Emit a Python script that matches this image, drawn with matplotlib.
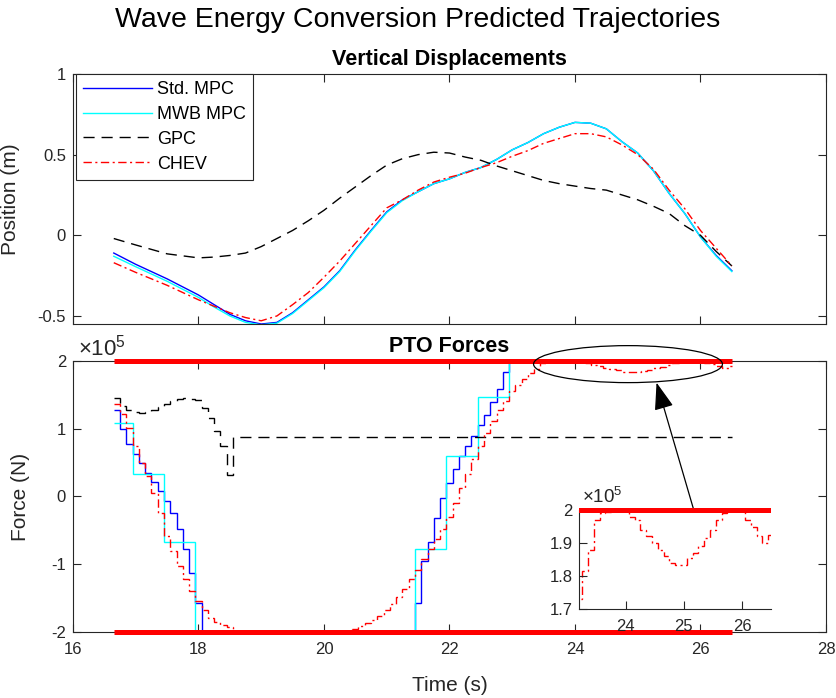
import numpy as np
import matplotlib
matplotlib.use('Agg')
import matplotlib.pyplot as plt
from matplotlib.patches import Ellipse
from matplotlib.ticker import FuncFormatter
from matplotlib.transforms import Bbox, TransformedBbox

plt.rcParams['font.family'] = ['Liberation Sans', 'DejaVu Sans']
plt.rcParams['axes.unicode_minus'] = False
plt.rcParams['mathtext.fontset'] = 'custom'
plt.rcParams['mathtext.rm'] = 'Liberation Sans'
plt.rcParams['mathtext.it'] = 'Liberation Sans:italic'

# ---- vertical displacements (m) ----
pos_time = [16.65, 17.0, 17.5, 18.0, 18.25, 18.5, 18.75, 19.0, 19.25, 19.5, 19.75, 20.0, 20.25, 20.5,
            20.75, 21.0, 21.25, 21.5, 21.75, 22.0, 22.25, 22.5, 22.75, 23.0, 23.25, 23.5, 23.75, 24.0,
            24.25, 24.5, 24.75, 25.0, 25.25, 25.5, 25.75, 26.0, 26.25, 26.5]
pos_std = [-0.11, -0.18, -0.27, -0.37, -0.43, -0.49, -0.53, -0.55, -0.54, -0.48, -0.40, -0.32, -0.22, -0.09,
           0.03, 0.145, 0.22, 0.27, 0.32, 0.35, 0.39, 0.42, 0.47, 0.53, 0.575, 0.63, 0.67, 0.70,
           0.695, 0.66, 0.58, 0.51, 0.40, 0.26, 0.135, -0.01, -0.125, -0.22]
pos_mwb = [-0.13, -0.195, -0.285, -0.385, -0.445, -0.50, -0.54, -0.555, -0.545, -0.485, -0.405, -0.325, -0.225, -0.095,
           0.025, 0.14, 0.215, 0.27, 0.32, 0.35, 0.39, 0.42, 0.47, 0.53, 0.575, 0.63, 0.67, 0.70,
           0.695, 0.66, 0.58, 0.51, 0.40, 0.26, 0.135, -0.01, -0.13, -0.225]
pos_gpc = [-0.02, -0.06, -0.115, -0.14, -0.135, -0.125, -0.11, -0.07, -0.02, 0.03, 0.09, 0.155, 0.23, 0.30,
           0.37, 0.435, 0.475, 0.50, 0.515, 0.51, 0.485, 0.465, 0.43, 0.40, 0.37, 0.34, 0.32, 0.305,
           0.29, 0.28, 0.25, 0.22, 0.18, 0.135, 0.06, 0.0, -0.10, -0.19]
pos_chev = [-0.17, -0.23, -0.31, -0.40, -0.44, -0.48, -0.51, -0.53, -0.50, -0.43, -0.355, -0.26, -0.16, -0.05,
            0.06, 0.17, 0.22, 0.28, 0.33, 0.36, 0.385, 0.42, 0.45, 0.49, 0.525, 0.57, 0.60, 0.63,
            0.63, 0.61, 0.56, 0.50, 0.41, 0.28, 0.165, 0.03, -0.08, -0.19]

# ---- PTO forces (x1e5 N), 0.1 s samples from 16.65 s ----
force_start = 16.65
force_end = 26.5
force_std = ([1.27, 1.00, 0.78, 0.62, 0.49, 0.35, 0.21, 0.08, -0.07, -0.25, -0.48, -0.77, -1.13, -1.57]
             + [-2.0] * 34
             + [-1.57, -0.95, -0.67, -0.32, -0.03, 0.20, 0.40, 0.59, 0.74, 0.89, 1.05, 1.20, 1.39, 1.58, 1.83]
             + [2.0] * 36)
force_chev = ([1.36, 1.22, 1.01, 0.75, 0.50, 0.30, 0.05, -0.25, -0.59, -0.81, -1.03, -1.22, -1.40,
               -1.55, -1.68, -1.79, -1.85, -1.90, -1.93]
              + [-2.0] * 18
              + [-1.98, -1.95, -1.91, -1.87, -1.82, -1.76, -1.68, -1.59, -1.48, -1.36, -1.22, -1.08,
                 -0.93, -0.78, -0.63, -0.48, -0.30, -0.10, 0.12, 0.33, 0.55, 0.75, 0.93, 1.11, 1.27,
                 1.41, 1.55, 1.65, 1.73, 1.815, 1.88, 1.97, 1.99, 1.995, 2.0, 2.0, 2.0, 1.98, 1.97,
                 1.94, 1.92, 1.90, 1.88, 1.86, 1.84, 1.835, 1.835, 1.855, 1.87, 1.89, 1.915, 1.94,
                 1.97, 1.99, 2.0, 2.0, 2.0, 1.97, 1.95, 1.92, 1.90, 1.925])
force_gpc = ([1.45, 1.33, 1.27, 1.24, 1.23, 1.24, 1.27, 1.32, 1.37, 1.41, 1.44, 1.45, 1.44, 1.42,
              1.30, 1.16, 0.96, 0.74, 0.31]
             + [0.875] * 80)
# move-blocked input: step edges (s) and values
mwb_edges = [16.65, 16.95, 17.45, 17.95, 21.45, 21.95, 22.45, 22.95, 26.5]
force_mwb = [1.09, 0.33, -0.67, -2.0, -0.77, 0.59, 1.47, 2.0]
force_max = 2.0
force_min = -2.0

n = len(force_std)
force_edges = np.r_[np.round(force_start + 0.1 * np.arange(n), 2), force_end]

c_std = '#0000FF'
c_mwb = '#00FFFF'
c_gpc = 'black'
c_chev = '#FF0000'
dash = (0, (8, 5))
dashdot = (0, (6, 2.5, 1.5, 2.5))
axcol = '#262626'

tick_fs = 12
label_fs = 15
title_fs = 15.5

fig = plt.figure(figsize=(8.36, 6.98), dpi=100)
fig.text(0.5, 0.971, 'Wave Energy Conversion Predicted Trajectories', ha='center', va='center',
         fontsize=20.5, color='black')

ax1 = fig.add_axes([0.0873, 0.5358, 0.9007, 0.3582])
ax2 = fig.add_axes([0.0873, 0.0946, 0.9007, 0.3883])


def style(ax, box=True):
    for s in ax.spines.values():
        s.set_color(axcol)
        s.set_linewidth(0.8)
    if not box:
        ax.spines['top'].set_visible(False)
        ax.spines['right'].set_visible(False)
    ax.tick_params(direction='in', length=6, width=0.8, colors=axcol, labelsize=tick_fs,
                   top=box, right=box, pad=5)
    ax.tick_params(axis='x', pad=7)
    ax.yaxis.set_major_formatter(FuncFormatter(lambda v, p: '%g' % round(v, 3)))
    ax.xaxis.set_major_formatter(FuncFormatter(lambda v, p: '%g' % round(v, 3)))


# top panel
ax1.plot(pos_time, pos_std, color=c_std, lw=1.0, label='Std. MPC')
ax1.plot(pos_time, pos_mwb, color=c_mwb, lw=1.0, label='MWB MPC')
ax1.plot(pos_time, pos_gpc, color=c_gpc, lw=1.0, linestyle=dash, label='GPC')
ax1.plot(pos_time, pos_chev, color=c_chev, lw=1.0, linestyle=dashdot, label='CHEV')
ax1.set_xlim(16, 28)
ax1.set_ylim(-0.55, 1)
ax1.set_xticks(np.arange(16, 29, 2))
ax1.set_yticks([-0.5, 0, 0.5, 1])
style(ax1)
ax1.tick_params(axis='x', labelbottom=False)
ax1.set_ylabel('Position (m)', fontsize=label_fs, color=axcol)
ax1.yaxis.set_label_coords(-0.0704, 0.5)
ax1.text(0.5, 1.056, 'Vertical Displacements', transform=ax1.transAxes, ha='center', va='center',
         fontsize=title_fs, fontweight='bold')
leg = ax1.legend(loc='upper left', bbox_to_anchor=(0.004, 1.0), fontsize=13, frameon=True,
                 fancybox=False, edgecolor=axcol, framealpha=1, handlelength=3.8,
                 handletextpad=0.3, labelspacing=0.43, borderpad=0.4, borderaxespad=0)
leg.get_frame().set_linewidth(0.8)

# bottom panel
ax2.stairs(force_std, force_edges, baseline=None, color=c_std, lw=1.0)
ax2.stairs(force_mwb, mwb_edges, baseline=None, color=c_mwb, lw=1.0)
ax2.stairs(force_gpc, force_edges, baseline=None, color=c_gpc, lw=1.0, linestyle=dash)
ax2.stairs(force_chev, force_edges, baseline=None, color=c_chev, lw=1.0, linestyle=dashdot)
for lim in (force_max, force_min):
    ax2.hlines(lim, force_edges[0], force_edges[-1], color='#FF0000', lw=3.6, zorder=3, clip_on=False)
ax2.set_xlim(16, 28)
ax2.set_ylim(-2, 2)
ax2.set_xticks(np.arange(16, 29, 2))
ax2.set_yticks([-2, -1, 0, 1, 2])
style(ax2)
ax2.set_ylabel('Force (N)', fontsize=label_fs, color=axcol)
ax2.yaxis.set_label_coords(-0.057, 0.5)
ax2.set_xlabel('Time (s)', fontsize=label_fs, color=axcol)
ax2.xaxis.set_label_coords(0.5, -0.196)
ax2.xaxis.label.set_va('center')
ax2.text(0.5, 1.052, 'PTO Forces', transform=ax2.transAxes, ha='center', va='center',
         fontsize=title_fs, fontweight='bold')
ax2.text(0.006, 1.05, '×10$^{5}$', transform=ax2.transAxes, ha='left', va='center',
         fontsize=16, color=axcol)

ell = Ellipse((24.845, 1.953), 3.01, 0.546, fill=False, edgecolor='black', lw=0.9, clip_on=False,
              zorder=4)
ax2.add_patch(ell)
ax2.annotate('', xy=(25.30, 1.68), xytext=(25.885, -0.174),
             arrowprops=dict(arrowstyle='-|>,head_length=1.7,head_width=0.6', color='black',
                             lw=0.9, shrinkA=0, shrinkB=0), zorder=4)

# inset
axin = fig.add_axes([0.693, 0.1271, 0.2293, 0.1423])
axin.set_facecolor('white')
axin.stairs(force_std, force_edges, baseline=None, color=c_std, lw=1.0)
axin.stairs(force_chev, force_edges, baseline=None, color=c_chev, lw=1.0, linestyle=dashdot)
ln = axin.hlines(force_max, force_edges[0], force_edges[-1], color='#FF0000', lw=3.6, zorder=3)
ln.set_clip_path(None)
ln.set_clip_box(TransformedBbox(Bbox([[0, -0.2], [1, 1.2]]), axin.transAxes))
axin.set_xlim(23.2, 26.5)
axin.set_ylim(1.7, 2.0)
axin.set_xticks([24, 25, 26])
axin.set_yticks([1.7, 1.8, 1.9, 2.0])
style(axin, box=False)
axin.text(0.014, 1.13, '×10$^{5}$', transform=axin.transAxes, ha='left', va='center',
          fontsize=13.5, color=axcol)

fig.savefig('out.png', dpi=100)
